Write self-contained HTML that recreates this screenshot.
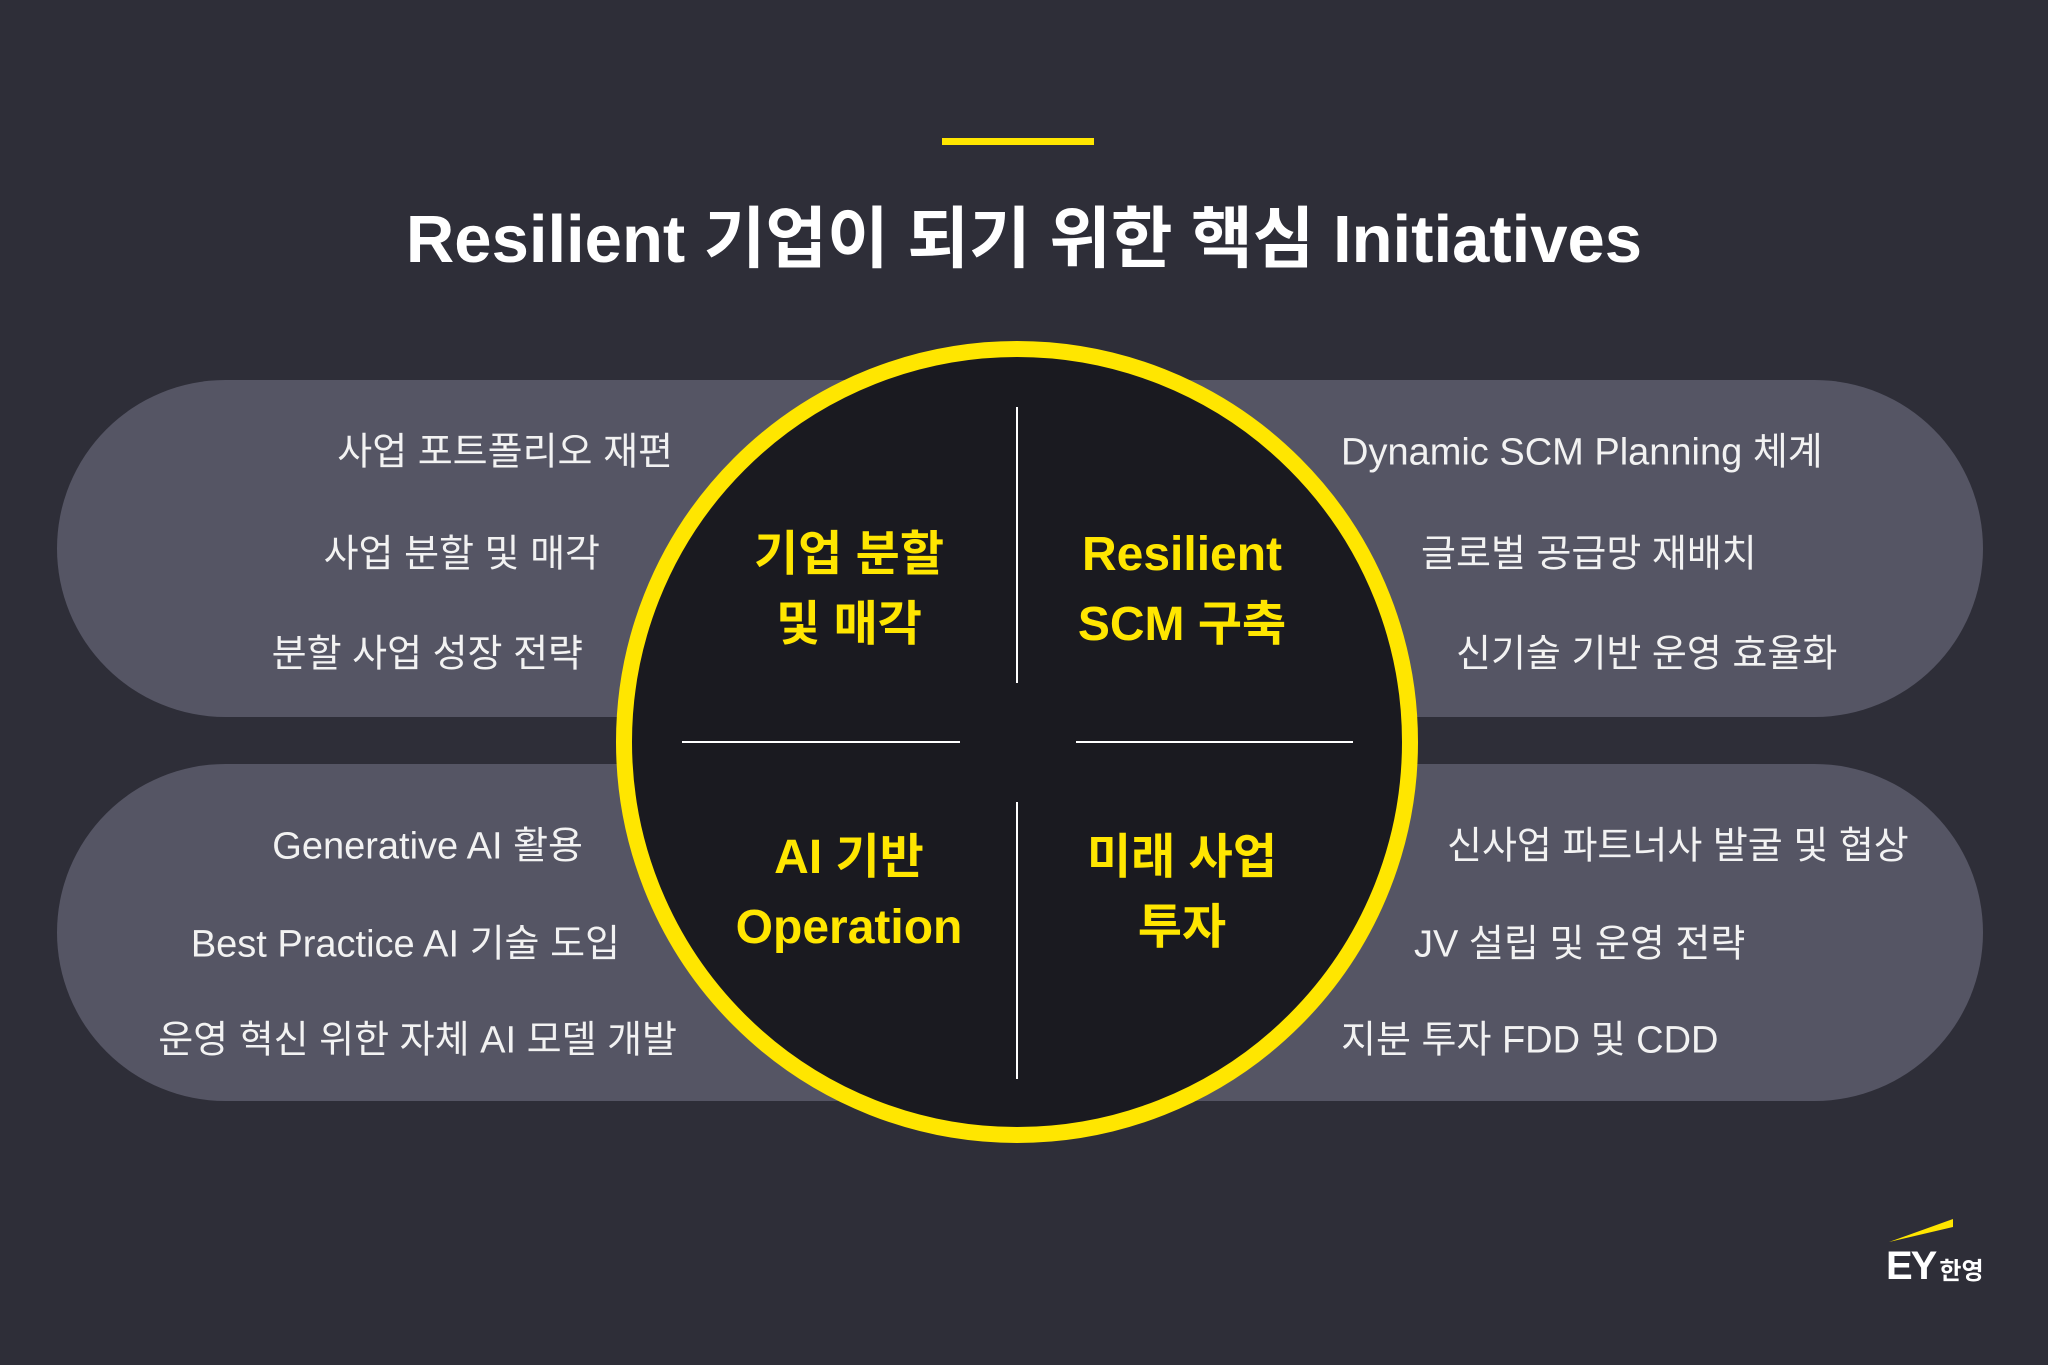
<!DOCTYPE html>
<html><head><meta charset="utf-8"><style>
body{margin:0;width:2048px;height:1365px;background:#2e2e38;position:relative;overflow:hidden;font-family:"Liberation Sans","Noto Sans CJK KR",sans-serif;}
.a{position:absolute;white-space:nowrap}
.pill{position:absolute;left:57px;width:1926px;height:337px;border-radius:169px;background:#555564}
.l{color:#f2f2f2;font-size:38px;transform:translateY(-50%)}
.r{text-align:right}
.q{position:absolute;color:#ffe600;font-weight:bold;font-size:48px;text-align:center;line-height:70px;width:300px;transform:translate(-50%,-50%)}
</style></head><body>
<div class="a" style="left:942px;top:138px;width:152px;height:7px;background:#ffe600"></div>
<div class="a" style="left:0;width:2048px;top:200px;text-align:center;color:#fff;font-weight:bold;font-size:67px;line-height:80px">Resilient 기업이 되기 위한 핵심 Initiatives</div>
<div class="pill" style="top:380px"></div>
<div class="pill" style="top:764px"></div>
<div class="a" style="left:616px;top:341px;width:770px;height:770px;border-radius:50%;border:16px solid #ffe600;background:#1a1a20"></div>
<div class="a" style="left:1016px;top:407px;width:2px;height:276px;background:#fff"></div>
<div class="a" style="left:1016px;top:802px;width:2px;height:277px;background:#fff"></div>
<div class="a" style="left:682px;top:741px;width:278px;height:2px;background:#fff"></div>
<div class="a" style="left:1076px;top:741px;width:277px;height:2px;background:#fff"></div>
<div class="q" style="left:849px;top:590px">기업 분할<br>및 매각</div>
<div class="q" style="left:1182px;top:590px">Resilient<br>SCM 구축</div>
<div class="q" style="left:849px;top:893px">AI 기반<br>Operation</div>
<div class="q" style="left:1182px;top:893px">미래 사업<br>투자</div>
<div class="a l r" style="right:1375px;top:448px">사업 포트폴리오 재편</div>
<div class="a l r" style="right:1448px;top:550px">사업 분할 및 매각</div>
<div class="a l r" style="right:1465px;top:650px">분할 사업 성장 전략</div>
<div class="a l r" style="right:1465px;top:842px">Generative AI 활용</div>
<div class="a l r" style="right:1428px;top:940px">Best Practice AI 기술 도입</div>
<div class="a l r" style="right:1371px;top:1036px">운영 혁신 위한 자체 AI 모델 개발</div>
<div class="a l" style="left:1341px;top:448px">Dynamic SCM Planning 체계</div>
<div class="a l" style="left:1421px;top:550px">글로벌 공급망 재배치</div>
<div class="a l" style="left:1456px;top:650px">신기술 기반 운영 효율화</div>
<div class="a l" style="left:1447px;top:842px">신사업 파트너사 발굴 및 협상</div>
<div class="a l" style="left:1414px;top:940px">JV 설립 및 운영 전략</div>
<div class="a l" style="left:1341px;top:1036px">지분 투자 FDD 및 CDD</div>
<svg class="a" style="left:1885px;top:1215px" width="70" height="30"><polygon points="4,27 68,4 68,12" fill="#ffe600"/></svg>
<div class="a" style="left:1886px;top:1246px;color:#fff;font-weight:900;font-size:40px;line-height:40px;letter-spacing:-2px">EY<span style="font-size:24px;font-weight:bold;letter-spacing:0;margin-left:4px">한영</span></div>
</body></html>
